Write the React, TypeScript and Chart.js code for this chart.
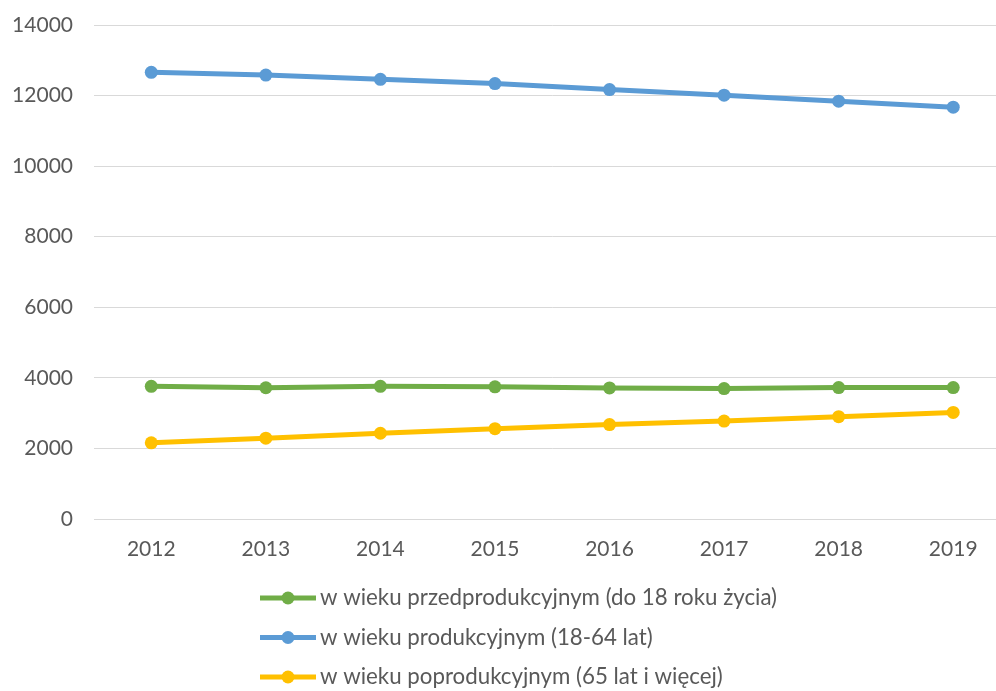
import React, { useEffect, useRef } from "react";
import { Chart, registerables } from "chart.js";

Chart.register(...registerables);

const years = ["2012", "2013", "2014", "2015", "2016", "2017", "2018", "2019"];
const przedprodukcyjny = [3760, 3720, 3760, 3745, 3715, 3695, 3725, 3725];
const produkcyjny = [12660, 12580, 12460, 12340, 12170, 12010, 11840, 11670];
const poprodukcyjny = [2160, 2290, 2430, 2560, 2675, 2775, 2900, 3020];
const seriesLabels = [
  "w wieku przedprodukcyjnym (do 18 roku życia)",
  "w wieku produkcyjnym (18-64 lat)",
  "w wieku poprodukcyjnym (65 lat i więcej)",
];
const seriesColors = ["#70AD47", "#5B9BD5", "#FFC000"];

const FONT = "Lato, 'Open Sans', sans-serif";
const TEXT = "#595959";

const legendPlugin = {
  id: "stackedLegend",
  afterDraw(chart: any) {
    const ctx = chart.ctx;
    const ds = chart.data.datasets;
    const x0 = 260;
    const y0 = 598;
    const step = 39.5;
    ctx.save();
    ds.forEach((d: any, i: number) => {
      const y = y0 + i * step;
      ctx.strokeStyle = d.borderColor;
      ctx.lineWidth = 5;
      ctx.lineCap = "butt";
      ctx.beginPath();
      ctx.moveTo(x0, y);
      ctx.lineTo(x0 + 56, y);
      ctx.stroke();
      ctx.fillStyle = d.borderColor;
      ctx.beginPath();
      ctx.arc(x0 + 28, y, 6.5, 0, Math.PI * 2);
      ctx.fill();
      ctx.fillStyle = TEXT;
      ctx.font = `22.3px ${FONT}`;
      ctx.textBaseline = "middle";
      ctx.textAlign = "left";
      ctx.fillText(d.label, x0 + 60, y);
    });
    ctx.restore();
  },
};

export default function App() {
  const ref = useRef<HTMLCanvasElement>(null);
  useEffect(() => {
    if (!ref.current) return;
    const mk = (i: number, data: number[]) => ({
      label: seriesLabels[i],
      data,
      borderColor: seriesColors[i],
      backgroundColor: seriesColors[i],
      borderWidth: 5,
      pointRadius: 6.5,
      pointHoverRadius: 6.5,
      pointBorderWidth: 0,
      tension: 0,
    });
    const chart = new Chart(ref.current, {
      type: "line",
      data: {
        labels: years,
        datasets: [mk(0, przedprodukcyjny), mk(1, produkcyjny), mk(2, poprodukcyjny)],
      },
      options: {
        animation: false,
        responsive: false,
        maintainAspectRatio: false,
        layout: { padding: { top: 25, bottom: 120, left: 0, right: 0 } },
        plugins: { legend: { display: false }, tooltip: { enabled: false } },
        scales: {
          x: {
            offset: true,
            grid: { display: false, drawTicks: false },
            border: { display: true, color: "#D9D9D9", width: 1 },
            ticks: { color: TEXT, font: { family: FONT, size: 21 }, padding: 18 },
            afterFit: (s: any) => {
              s.height = 52;
              s.paddingLeft = 0;
              s.paddingRight = 0;
            },
          },
          y: {
            min: 0,
            max: 14000,
            grid: { color: "#D9D9D9", lineWidth: 1, drawTicks: false },
            border: { display: false },
            ticks: {
              stepSize: 2000,
              color: TEXT,
              font: { family: FONT, size: 21 },
              padding: 21,
              callback: (v: any) => String(v),
            },
            afterFit: (s: any) => {
              s.width = 94;
              s.paddingTop = 0;
              s.paddingBottom = 0;
            },
          },
        },
      },
      plugins: [legendPlugin],
    });
    return () => chart.destroy();
  }, []);
  return (
    <div
      style={{
        position: "fixed",
        left: 0,
        top: 0,
        width: 996,
        height: 691,
        overflow: "hidden",
        background: "#fff",
      }}
    >
      <canvas ref={ref} width={1017} height={691} style={{ display: "block" }} />
    </div>
  );
}
